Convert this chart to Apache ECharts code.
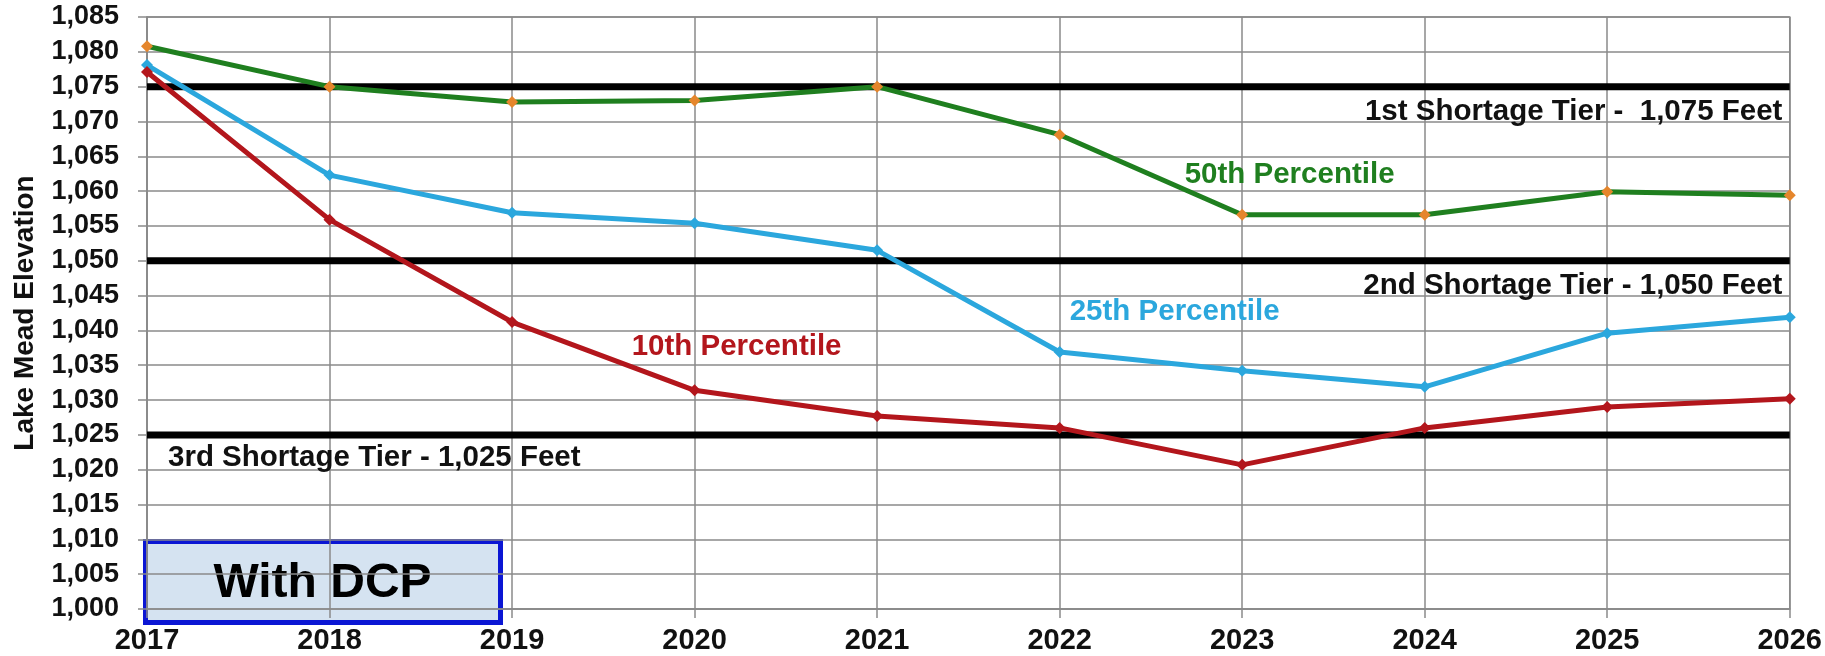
<!DOCTYPE html>
<html>
<head>
<meta charset="utf-8">
<script src="https://cdn.jsdelivr.net/npm/echarts@6/dist/echarts.min.js"></script>
<style>
html,body{margin:0;padding:0;background:#fff;}
#c{width:1825px;height:656px;}
</style>
</head>
<body>
<div id="c"></div>
<script>
const years = [2017, 2018, 2019, 2020, 2021, 2022, 2023, 2024, 2025, 2026];
const p50 = [1080.8, 1075.0, 1072.8, 1073.0, 1075.0, 1068.1, 1056.6, 1056.6, 1059.9, 1059.4];
const p25 = [1078.1, 1062.3, 1056.9, 1055.4, 1051.5, 1036.9, 1034.2, 1031.9, 1039.6, 1041.9];
const p10 = [1077.1, 1055.9, 1041.2, 1031.4, 1027.7, 1026.0, 1020.7, 1026.0, 1029.0, 1030.2];
const tierValues = [1075, 1050, 1025];
const tierLabels = ['1st Shortage Tier -  1,075 Feet', '2nd Shortage Tier - 1,050 Feet', '3rd Shortage Tier - 1,025 Feet'];
const seriesNames = ['50th Percentile', '25th Percentile', '10th Percentile'];
const yTicks = [1000, 1005, 1010, 1015, 1020, 1025, 1030, 1035, 1040, 1045, 1050, 1055, 1060, 1065, 1070, 1075, 1080, 1085];
const boxText = 'With DCP';
const yName = 'Lake Mead Elevation';

const FONT = 'Liberation Sans, Arial, sans-serif';
const GREEN = '#1f7f1f', BLUE = '#2ba7dd', RED = '#b3161c', ORANGE = '#e5862c';

function pts(arr){ return years.map((y,i)=>[y, arr[i]]); }
function textPoint(x, y, text, color, align, size){
  return {
    coord:[x,y], symbol:'rect', symbolSize:0, value:text,
    label:{show:true, position:'inside', formatter:text, color:color, fontSize:size, fontWeight:'bold', fontFamily:FONT, align:align||'center', verticalAlign:'middle'}
  };
}

const series = [];
tierValues.forEach((v,i)=>{
  series.push({
    type:'line', silent:true, symbol:'none', z:3,
    data:[[years[0], v],[years[years.length-1], v]],
    lineStyle:{color:'#000', width:7},
    markPoint: {silent:true, data:[ i<2 ? textPoint(2025.96, v-3.6, tierLabels[i], '#111', 'right', 29.5)
                              : textPoint(2017.115, v-3.3, tierLabels[i], '#111', 'left', 29.5) ]}
  });
});
const defs = [
  {d:p50, c:GREEN, m:ORANGE, lab:[2023.26, 1062.3]},
  {d:p25, c:BLUE, m:BLUE, lab:[2022.63, 1042.6]},
  {d:p10, c:RED, m:RED, lab:[2020.23, 1037.6]}
];
defs.forEach((s,i)=>{
  series.push({
    name:seriesNames[i], type:'line', z:5,
    data:pts(s.d), symbol:'diamond', symbolSize:12, showSymbol:true,
    lineStyle:{color:s.c, width:5}, itemStyle:{color:s.m},
    markPoint:{silent:true, data:[textPoint(s.lab[0], s.lab[1], seriesNames[i], s.c, 'center', 29.5)]}
  });
});

const chart = echarts.init(document.getElementById('c'), null, {renderer:'canvas'});
chart.setOption({
  animation:false,
  backgroundColor:'#fff',
  grid:{left:147, right:33, top:17, bottom:47, show:true, borderColor:'#8a8a8a', borderWidth:1.5},
  xAxis:{
    type:'value', min:2017, max:2026, interval:1,
    axisLine:{show:true, lineStyle:{color:'#8a8a8a', width:1.5}},
    axisTick:{show:true, length:9, lineStyle:{color:'#8a8a8a', width:1.5}},
    splitLine:{show:true, lineStyle:{color:'#8a8a8a', width:1.5}},
    axisLabel:{formatter:v=>String(v), color:'#111', fontSize:29, fontWeight:'bold', fontFamily:FONT, margin:17}
  },
  yAxis:{
    type:'value', min:1000, max:1085, interval:5,
    name:yName, nameLocation:'middle', nameGap:108,
    nameTextStyle:{color:'#111', fontSize:28, fontWeight:'bold', fontFamily:FONT},
    axisLine:{show:true, lineStyle:{color:'#8a8a8a', width:1.5}},
    axisTick:{show:true, length:9, lineStyle:{color:'#8a8a8a', width:1.5}},
    splitLine:{show:true, lineStyle:{color:'#8a8a8a', width:1.5}},
    axisLabel:{formatter:v=>v.toLocaleString('en-US'), color:'#111', fontSize:27, fontWeight:'bold', fontFamily:FONT, margin:28}
  },
  series:series,
  graphic:[{
    type:'group', left:143, top:539, z:10,
    children:[
      {type:'rect', shape:{x:0,y:0,width:355,height:81}, style:{fill:'#d5e3f1', stroke:'#0b16d4', lineWidth:5}},
      {type:'text', style:{x:177, y:42, text:boxText, fill:'#000', font:'bold 48px '+FONT, textAlign:'center', textVerticalAlign:'middle'}}
    ]
  }]
});
</script>
</body>
</html>
